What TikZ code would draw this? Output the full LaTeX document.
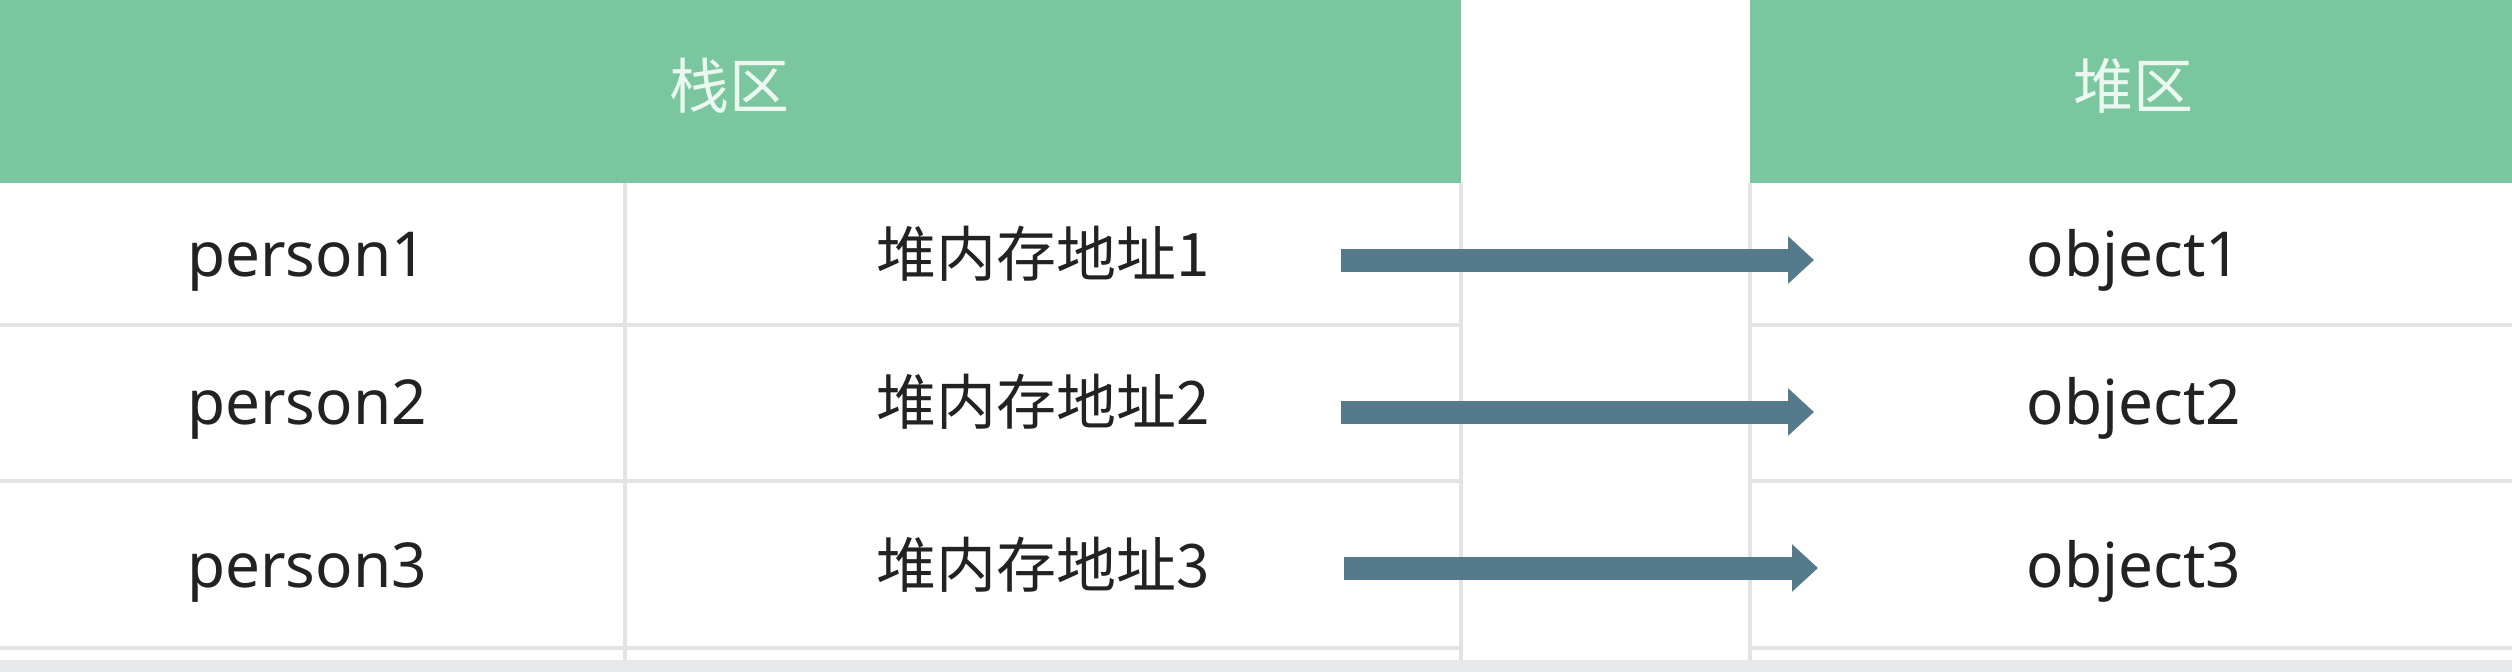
\documentclass[tikz,border=0pt]{standalone}
\usepackage{fontspec}
\setmainfont{Noto Sans}
\newfontfamily\cjk{Noto Sans CJK SC}
\usetikzlibrary{arrows.meta}
\definecolor{hdrgreen}{HTML}{7AC69F}
\definecolor{hdrtext}{HTML}{EAF8F0}
\definecolor{gridgray}{HTML}{E2E3E3}
\definecolor{arrowblue}{HTML}{557A8B}
\definecolor{txtdark}{HTML}{222222}
\definecolor{barfill}{HTML}{E6E8EA}
\tikzset{
  x=1pt, y=-1pt,
  hdr/.style={fill=hdrgreen, draw=none},
  hdrlabel/.style={text=hdrtext, font=\cjk\fontsize{60}{60}\selectfont, inner sep=0pt, anchor=center},
  gridline/.style={draw=gridgray, line width=4pt},
  latin/.style={text=txtdark, font=\fontsize{62}{62}\selectfont, inner sep=0pt, anchor=base},
  addr/.style={text=txtdark, font=\cjk\fontsize{60}{60}\selectfont, inner sep=0pt, anchor=base},
  ptr/.style={draw=arrowblue, line width=23pt, -{Triangle[width=46pt,length=26pt]}}
}
\begin{document}
\begin{tikzpicture}
\fill[white] (0,0) rectangle (2512,672);
\useasboundingbox (0,0) rectangle (2512,672);
% headers
\fill[hdr] (0,0) rectangle (1461,183);
\fill[hdr] (1750,0) rectangle (2512,183);
\node[hdrlabel] (stackhdr) at (729,86) {栈区};
\node[hdrlabel] (heaphdr) at (2133,86) {堆区};
% grid lines
\draw[gridline] (0,325) -- (1461,325);
\draw[gridline] (0,481) -- (1461,481);
\draw[gridline] (0,648) -- (1461,648);
\draw[gridline] (1750,325) -- (2512,325);
\draw[gridline] (1750,481) -- (2512,481);
\draw[gridline] (1750,648) -- (2512,648);
\draw[gridline] (625,183) -- (625,662);
\draw[gridline] (1461,183) -- (1461,662);
\draw[gridline] (1750,183) -- (1750,662);
% bottom bar
\fill[barfill] (0,660) rectangle (2512,672);
% texts
\node[latin] (p1) at (307,276) {person1};
\node[latin] (p2) at (307,424) {person2};
\node[latin] (p3) at (307,587) {person3};
\node[addr] (a1) at (1043,276) {堆内存地址1};
\node[addr] (a2) at (1043,424) {堆内存地址2};
\node[addr] (a3) at (1043,587) {堆内存地址3};
\node[latin] (o1) at (2134,276) {object1};
\node[latin] (o2) at (2134,424) {object2};
\node[latin] (o3) at (2134,587) {object3};
% arrows
\coordinate (s1) at (1341,260);
\coordinate (e1) at (1814,260);
\coordinate (s2) at (1341,412);
\coordinate (e2) at (1814,412);
\coordinate (s3) at (1344,568);
\coordinate (e3) at (1818,568);
\draw[ptr] (s1) -- (e1);
\draw[ptr] (s2) -- (e2);
\draw[ptr] (s3) -- (e3);
\end{tikzpicture}
\end{document}
